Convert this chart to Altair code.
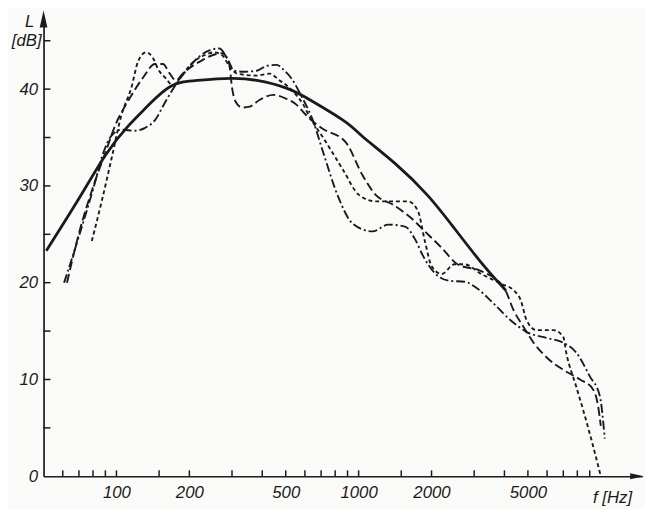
import altair as alt
import pandas as pd

# ---- data (frequency in Hz, level in dB) ----
solid_f = [51.3, 70.0, 90.2, 111.9, 135.1, 167.7, 216.1, 294.7, 379.8, 503.5, 648.9,
           885, 1038, 1416, 1931, 2488, 3299, 4057]
solid_L = [23.3, 28.7, 33.2, 36.2, 38.3, 40.3, 40.9, 41.1, 40.9, 40.1, 38.7,
           36.6, 35.1, 32.3, 29.0, 25.6, 21.7, 19.2]

dashdot_f = [60.8, 70.0, 80.6, 88.5, 95.4, 104.8, 119.6, 131.3, 144.3, 158.5, 174.1,
             196.7, 216.1, 241.9, 265.8, 286.5, 306, 336.1, 379.8, 417.3, 458.4,
             494.2, 527.8, 579.8, 648.9, 713, 828.6, 945, 1141, 1326, 1555, 1709,
             1842, 2062, 2374, 2734, 3089, 3524, 4252, 4942, 5964, 6998, 7907,
             9019, 9906, 10383]
dashdot_L = [20.0, 24.8, 29.9, 33.5, 35.2, 35.8, 35.7, 36.0, 36.8, 38.6, 40.3,
             42.1, 43.2, 44.0, 44.2, 43.2, 41.9, 41.8, 41.9, 42.4, 42.5,
             41.9, 41.1, 39.3, 36.7, 33.5, 28.7, 26.1, 25.3, 26.0, 25.8, 24.5,
             22.8, 21.0, 20.2, 20.1, 19.4, 18.1, 16.1, 14.9, 14.3, 13.8, 12.8,
             10.3, 8.3, 3.9]

longdash_f = [62.5, 70.0, 80.6, 90.2, 99, 111.9, 128.9, 144.3, 155.5, 166.1, 175.8,
              187.7, 206.2, 226.5, 248.8, 273.4, 292, 300.3, 308.9, 329.9, 355.6,
              390.6, 445.7, 503.5, 553.2, 607.7, 700, 885, 1038, 1173, 1377, 1661,
              1877, 2203, 2560, 3207, 3981, 4374, 4805, 5278, 5964, 6998, 8209,
              9275, 9723, 10000]
longdash_L = [20.0, 25.1, 30.1, 33.5, 36.3, 38.8, 41.2, 42.6, 42.6, 41.6, 40.9,
              41.6, 42.4, 43.0, 43.5, 43.7, 42.6, 40.1, 38.8, 38.1, 38.2,
              38.9, 39.4, 39.0, 38.4, 37.3, 36.0, 34.5, 31.1, 29.1, 28.1, 26.6,
              25.3, 23.6, 21.9, 21.2, 19.5, 17.1, 15.4, 13.8, 12.3, 11.0, 10.0,
              9.0, 7.4, 5.2]

shortdash_f = [79.1, 86.9, 95.4, 104.8, 115.1, 123, 132.6, 141.6, 148.4, 160, 170.9,
               179.1, 191.2, 210.1, 230.8, 253.6, 273.4, 292, 314.8, 379.8, 429.3,
               471.5, 503.5, 542.9, 590.8, 625, 713, 860.4, 1000, 1173, 1377, 1600,
               1758, 1877, 2004, 2203, 2488, 2734, 3207, 3870, 4374, 4670, 4942,
               5429, 6370, 6998, 7196, 7907, 8443, 9275, 10000]
shortdash_L = [24.3, 28.4, 32.8, 37.3, 40.1, 42.9, 43.8, 43.2, 42.1, 41.1, 40.4,
               40.8, 41.8, 42.9, 43.5, 43.8, 43.5, 42.4, 41.6, 41.4, 41.6,
               40.9, 40.4, 39.6, 38.4, 37.2, 35.0, 31.7, 29.1, 28.4, 28.4, 28.4,
               27.4, 24.3, 21.7, 20.9, 21.9, 21.9, 20.9, 19.9, 19.2, 18.2, 16.1,
               15.1, 15.1, 14.4, 12.8, 9.3, 6.9, 3.2, 0.0]

x_tick_values = [60, 70, 80, 90, 100, 150, 200, 300, 400, 500, 600, 700, 800, 900,
                 1000, 1500, 2000, 3000, 4000, 5000, 6000, 7000, 8000, 9000]
x_label_values = [100, 200, 500, 1000, 2000, 5000]
y_tick_values = [5, 10, 15, 20, 25, 30, 35, 40, 45]
y_label_values = [0, 10, 20, 30, 40]

# ---- layout ----
W, H = 606, 461
INK = "#1a1a1a"
FONT = "Liberation Sans"

xscale = alt.Scale(type="log", domain=[50, 14800], nice=False)
yscale = alt.Scale(domain=[0, 47.04], nice=False, zero=False)

xaxis = alt.Axis(values=x_label_values, title=None, ticks=False, grid=False,
                 domainColor=INK, domainWidth=1.7, labelFont=FONT,
                 labelFontStyle="italic", labelFontSize=17, labelColor=INK,
                 labelPadding=9, format="d", labelFlush=False)
yaxis = alt.Axis(values=y_label_values, title=None, ticks=False, grid=False,
                 domainColor=INK, domainWidth=1.7, labelFont=FONT,
                 labelFontStyle="italic", labelFontSize=17, labelColor=INK,
                 labelPadding=6, format="d")

X = alt.X("f:Q", scale=xscale, axis=xaxis)
Y = alt.Y("L:Q", scale=yscale, axis=yaxis)


def curve(fs, Ls, width, dash=None, interp="monotone"):
    df = pd.DataFrame({"f": fs, "L": Ls})
    kw = dict(color=INK, strokeWidth=width, interpolate=interp)
    if dash:
        kw["strokeDash"] = dash
    return alt.Chart(df).mark_line(**kw).encode(x=X, y=Y)


solid = curve(solid_f, solid_L, 2.8, interp="natural")
dashdot = curve(dashdot_f, dashdot_L, 1.9, [9, 3, 2, 3])
longdash = curve(longdash_f, longdash_L, 1.9, [9, 4])
shortdash = curve(shortdash_f, shortdash_L, 1.9, [4, 3])

xticks = alt.Chart(pd.DataFrame({"f": x_tick_values})).mark_rule(
    color=INK, strokeWidth=1.5).encode(x=X, y=alt.value(H), y2=alt.value(H - 6))
yticks = alt.Chart(pd.DataFrame({"L": y_tick_values})).mark_rule(
    color=INK, strokeWidth=1.5).encode(y=Y, x=alt.value(0), x2=alt.value(7))

one = pd.DataFrame({"a": [0]})
up_arrow = alt.Chart(one).mark_point(
    shape="M0,-1L0.45,1L-0.45,1Z", filled=True, color=INK, size=300, opacity=1
).encode(x=alt.value(0), y=alt.value(-2))
right_arrow = alt.Chart(one).mark_point(
    shape="M1,0L-1,-0.42L-1,0.42Z", filled=True, color=INK, size=196, opacity=1
).encode(x=alt.value(601), y=alt.value(H))

txt = dict(font=FONT, fontStyle="italic", fontSize=17, color=INK)
label_L = alt.Chart(one).mark_text(**txt, align="center", baseline="middle").encode(
    x=alt.value(-14), y=alt.value(1), text=alt.value("L"))
label_dB = alt.Chart(one).mark_text(**txt, align="center", baseline="middle").encode(
    x=alt.value(-17), y=alt.value(20), text=alt.value("[dB]"))
label_f = alt.Chart(one).mark_text(**txt, align="right", baseline="middle").encode(
    x=alt.value(596), y=alt.value(H + 22), text=alt.value("f [Hz]"))

chart = alt.layer(
    solid, dashdot, longdash, shortdash, xticks, yticks,
    up_arrow, right_arrow, label_L, label_dB, label_f
).properties(
    width=W, height=H,
    padding={"left": 36, "top": 10, "right": 3, "bottom": 30},
    autosize=alt.AutoSizeParams(type="none"),
    background="#fafaf9",
).configure_view(stroke=None)

chart.save("out.html", embed_options={"renderer": "svg", "actions": False})
